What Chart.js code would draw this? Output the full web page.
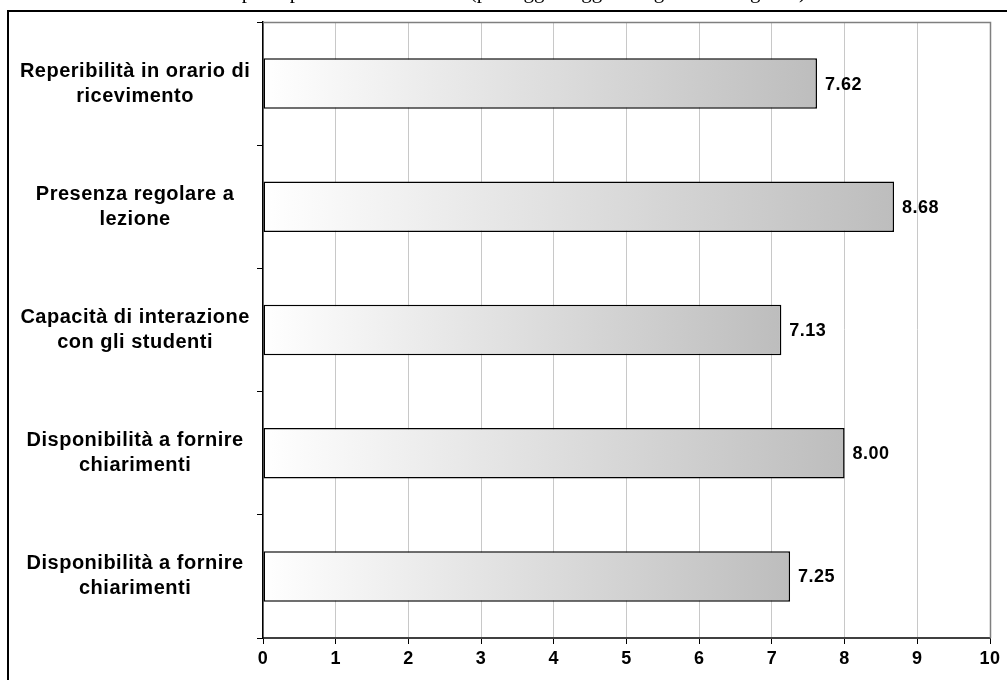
<!DOCTYPE html>
<html>
<head>
<meta charset="utf-8">
<script src="https://cdn.jsdelivr.net/npm/chart.js@4/dist/chart.umd.min.js"></script>
<style>
  html, body { margin: 0; padding: 0; background: #fff; overflow: hidden; }
  #wrap { position: relative; width: 1007px; height: 680px; }
  #title {
    position: absolute; left: 0; width: 1007px; top: -21px; z-index: 2;
    text-align: center; font-family: "Liberation Serif", "DejaVu Serif", serif;
    font-size: 21px; line-height: 24px; color: #000; white-space: nowrap;
  }
  canvas { position: absolute; left: 0; top: 0; z-index: 1; }
</style>
</head>
<body>
<div id="wrap">
  <div id="title">Compiti e presenza del docente (punteggi maggiori = giudizio migliore)</div>
  <canvas id="c" width="1007" height="680"></canvas>
</div>
<script>
// Category labels (two lines each), top to bottom
const categories = [
  ["Reperibilità in orario di", "ricevimento"],
  ["Presenza regolare a", "lezione"],
  ["Capacità di interazione", "con gli studenti"],
  ["Disponibilità a fornire", "chiarimenti"],
  ["Disponibilità a fornire", "chiarimenti"]
];
// Mean scores
const scores = [7.62, 8.68, 7.13, 8.00, 7.25];
// X-axis ticks
const xTicks = [0, 1, 2, 3, 4, 5, 6, 7, 8, 9, 10];

const FONT = "'Liberation Sans', Arial, sans-serif";

// White background, slightly spaced lettering; outer frame and top/right plot edges
const framePlugin = {
  id: 'frame',
  beforeDraw(chart) {
    const ctx = chart.ctx;
    ctx.fillStyle = '#fff';
    ctx.fillRect(0, 0, chart.width, chart.height);
    ctx.letterSpacing = '0.5px';
  },
  afterDraw(chart) {
    const ctx = chart.ctx;
    const a = chart.chartArea;
    ctx.save();
    ctx.strokeStyle = '#7f7f7f';
    ctx.lineWidth = 1.5;
    ctx.beginPath();
    ctx.moveTo(a.left, a.top + 0.5);
    ctx.lineTo(a.right + 0.5, a.top + 0.5);
    ctx.lineTo(a.right + 0.5, a.bottom);
    ctx.stroke();
    ctx.strokeStyle = '#000';
    ctx.lineWidth = 2;
    ctx.strokeRect(8, 11, chart.width + 20, chart.height + 20);
    ctx.restore();
  }
};

// Value labels to the right of each bar
const valuePlugin = {
  id: 'values',
  afterDatasetsDraw(chart) {
    const ctx = chart.ctx;
    const meta = chart.getDatasetMeta(0);
    ctx.save();
    ctx.font = 'bold 18px ' + FONT;
    ctx.fillStyle = '#000';
    ctx.textAlign = 'left';
    ctx.textBaseline = 'middle';
    meta.data.forEach((bar, i) => {
      ctx.fillText(scores[i].toFixed(2), bar.x + 8, bar.y + 1);
    });
    ctx.restore();
  }
};

// Horizontal white-to-grey fill for each bar
function barGradient(context) {
  const chart = context.chart;
  const xs = chart.scales && chart.scales.x;
  if (!xs || context.raw === undefined) return '#d0d0d0';
  const x0 = xs.getPixelForValue(0);
  const x1 = xs.getPixelForValue(context.raw);
  if (!isFinite(x0) || !isFinite(x1) || x1 <= x0) return '#d0d0d0';
  const g = chart.ctx.createLinearGradient(x0, 0, x1, 0);
  g.addColorStop(0, '#ffffff');
  g.addColorStop(1, '#bdbdbd');
  return g;
}

new Chart(document.getElementById('c'), {
  type: 'bar',
  data: {
    labels: categories,
    datasets: [{
      data: scores,
      backgroundColor: barGradient,
      borderColor: '#000',
      borderWidth: 1.5,
      borderSkipped: false,
      categoryPercentage: 1,
      barPercentage: 0.41
    }]
  },
  options: {
    indexAxis: 'y',
    responsive: false,
    animation: false,
    devicePixelRatio: 1,
    layout: { padding: { left: 8, top: 22, right: 17, bottom: 0 } },
    plugins: {
      legend: { display: false },
      tooltip: { enabled: false },
      title: { display: false }
    },
    scales: {
      x: {
        type: 'linear',
        min: 0,
        max: 10,
        afterBuildTicks(axis) { axis.ticks = xTicks.map(v => ({ value: v })); },
        afterFit(axis) { axis.height = 42; },
        grid: {
          color: '#c8c8c8',
          lineWidth: 1,
          tickColor: '#000',
          tickLength: 6,
          drawTicks: true
        },
        border: { display: true, color: '#404040', width: 2 },
        ticks: {
          color: '#000',
          padding: 4,
          font: { family: FONT, size: 18, weight: 'bold' },
          maxRotation: 0,
          autoSkip: false
        }
      },
      y: {
        type: 'category',
        offset: true,
        afterFit(axis) {
          axis.width = 255;
          axis.paddingTop = 0;
          axis.paddingBottom = 0;
        },
        grid: {
          drawOnChartArea: false,
          offset: true,
          tickColor: '#000',
          tickLength: 6
        },
        border: { display: true, color: '#000', width: 1.5 },
        ticks: {
          color: '#000',
          padding: 13,
          crossAlign: 'center',
          font: { family: FONT, size: 20, weight: 'bold', lineHeight: 1.25 },
          autoSkip: false
        }
      }
    }
  },
  plugins: [framePlugin, valuePlugin]
});
</script>
</body>
</html>
